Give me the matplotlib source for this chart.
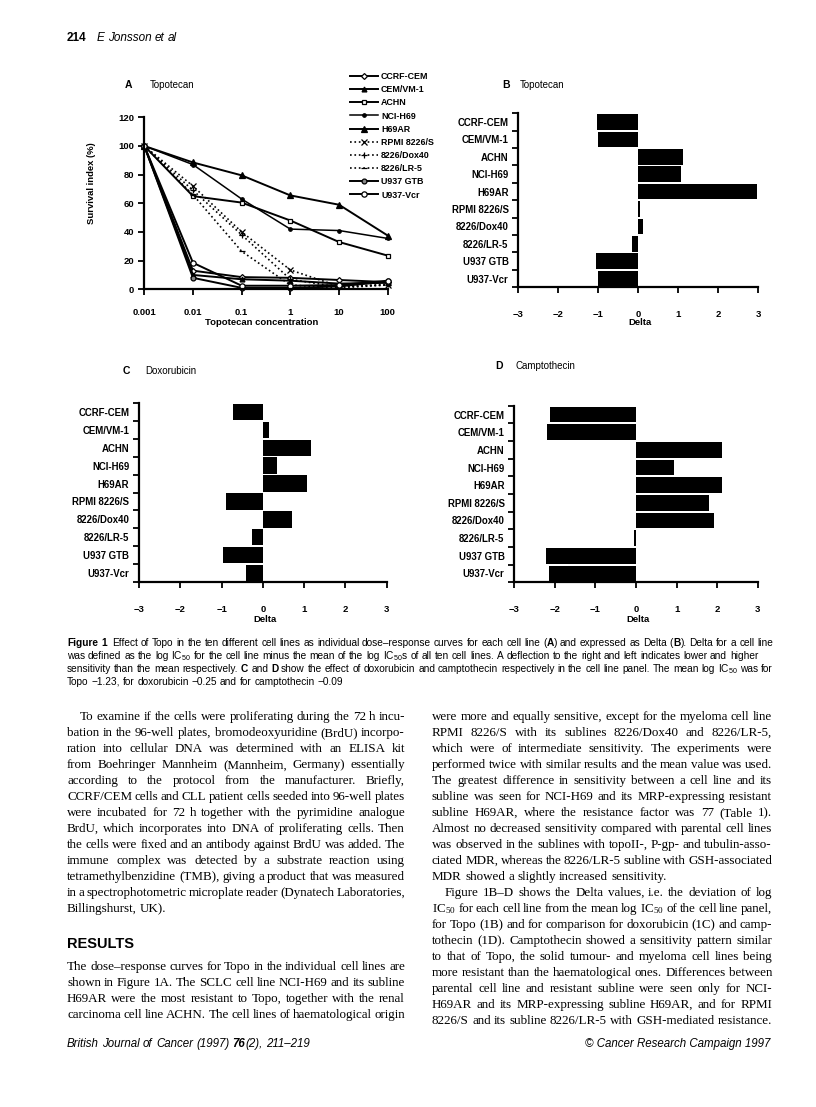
import matplotlib
matplotlib.use('Agg')
import matplotlib.pyplot as plt

W, H = 816, 1107
fig = plt.figure(figsize=(W / 100, H / 100), dpi=100)
renderer = fig.canvas.get_renderer()

# ---------------- data ----------------
conc = [0.001, 0.01, 0.1, 1, 10, 100]
conc_labels = ['0.001', '0.01', '0.1', '1', '10', '100']
cell_lines = ['CCRF-CEM', 'CEM/VM-1', 'ACHN', 'NCI-H69', 'H69AR',
              'RPMI 8226/S', '8226/Dox40', '8226/LR-5', 'U937 GTB', 'U937-Vcr']

surv_ccrf = [100, 13, 8.5, 8, 6.5, 5]
surv_cemvm = [100, 10, 7, 6, 4, 4.5]
surv_achn = [100, 65, 60.5, 48, 33, 23.5]
surv_h69 = [100, 87, 63, 42, 41, 35.5]
surv_h69ar = [100, 88.5, 79.5, 65.5, 59, 37.5]
surv_rpmi = [100, 72, 40, 13.5, 2, 3]
surv_dox40 = [100, 69, 38, 7, 1.5, 3.5]
surv_lr5 = [100, 66, 26.5, 3, 1, 3]
surv_u937 = [100, 8, 1, 1, 2, 5.5]
surv_vcr = [100, 18.5, 2.5, 2.5, 3, 6]

delta_topo = [-1.04, -1.02, 1.12, 1.07, 2.96, 0.04, 0.11, -0.16, -1.07, -1.00]
delta_doxo = [-0.73, 0.14, 1.17, 0.34, 1.08, -0.89, 0.71, -0.26, -0.97, -0.40]
delta_campto = [-2.11, -2.20, 2.12, 0.94, 2.12, 1.79, 1.93, -0.05, -2.22, -2.14]

delta_ticks = [-3, -2, -1, 0, 1, 2, 3]
delta_ticklabels = ['\u22123', '\u22122', '\u22121', '0', '1', '2', '3']

SANS = 'Liberation Sans'
SERIF = 'Liberation Serif'


def fx(x):
    return x / W


def fy(y):
    return 1 - y / H


def ax_px(l, t, r, b):
    return fig.add_axes([l / W, 1 - b / H, (r - l) / W, (b - t) / H])


def style_axes(ax):
    for s in ['top', 'right']:
        ax.spines[s].set_visible(False)
    for s in ['left', 'bottom']:
        ax.spines[s].set_linewidth(1.6)
    ax.tick_params(which='major', direction='out', length=4.5, width=1.3,
                   labelsize=6.8, pad=3)
    ax.set_facecolor('none')


# ---------------- panel A ----------------
axA = ax_px(144.3, 117.3, 387.7, 289.3)
series = [
    (surv_ccrf, dict(ls='-', marker='D', ms=3, mfc='white')),
    (surv_cemvm, dict(ls='-', marker='^', ms=3.5, mfc='black')),
    (surv_achn, dict(ls='-', marker='s', ms=3.5, mfc='white')),
    (surv_h69, dict(ls='-', marker='o', ms=2.5, mfc='black', lw=1.1)),
    (surv_h69ar, dict(ls='-', marker='^', ms=4, mfc='black')),
    (surv_rpmi, dict(ls=':', marker='x', ms=4, mfc='black', lw=1.2)),
    (surv_dox40, dict(ls=':', marker='+', ms=4.5, mfc='black', lw=1.2)),
    (surv_lr5, dict(ls=':', marker='_', ms=4.5, mfc='black', lw=1.2)),
    (surv_u937, dict(ls='-', marker='o', ms=3.5, mfc='#888888')),
    (surv_vcr, dict(ls='-', marker='o', ms=3.8, mfc='white')),
]
handles = []
for (vals, kw), name in zip(series, cell_lines):
    kw = dict(kw)
    kw.setdefault('lw', 1.4)
    ln, = axA.plot(conc, vals, color='black', mec='black', mew=0.9,
                   label=name, clip_on=False, **kw)
    handles.append(ln)
axA.set_xscale('log')
axA.set_xlim(0.001, 100)
axA.set_ylim(0, 120)
axA.set_xticks(conc)
axA.set_xticklabels(conc_labels)
axA.minorticks_off()
axA.set_yticks([0, 20, 40, 60, 80, 100, 120])
style_axes(axA)
for lab in axA.get_xticklabels() + axA.get_yticklabels():
    lab.set_fontfamily(SANS)
    lab.set_fontweight('bold')
axA.tick_params(axis='x', pad=9)
fig.text(fx(92), fy(183), 'Survival index (%)', rotation=90, ha='center', va='center',
         fontsize=6.8, family=SANS, fontweight='bold')
fig.text(fx(262), fy(322.7), 'Topotecan concentration', ha='center', va='center',
         fontsize=6.8, family=SANS, fontweight='bold')
fig.text(fx(125), fy(85), 'A', ha='left', va='center', fontsize=7.5, family=SANS,
         fontweight='bold')
fig.text(fx(150), fy(85), 'Topotecan', ha='left', va='center', fontsize=7, family=SANS)

fig.legend(handles, cell_lines, loc='upper left', bbox_to_anchor=(fx(350), fy(72)),
           frameon=False, prop=dict(family=SANS, weight='bold', size=6.4),
           handlelength=3.2, handletextpad=0.3, labelspacing=0.47, borderaxespad=0,
           borderpad=0)


# ---------------- bar panels ----------------
def bar_panel(l, t, r, b, vals, letter, title, letter_xy, title_x, delta_y):
    ax = ax_px(l, t, r, b)
    n = len(cell_lines)
    pos = [n - 0.5 - i for i in range(n)]
    ax.barh(pos, vals, height=0.9, color='black', edgecolor='none')
    ax.set_xlim(-3, 3)
    ax.set_ylim(0, n)
    ax.set_xticks(delta_ticks)
    ax.set_xticklabels(delta_ticklabels)
    ax.set_yticks(range(n + 1))
    ax.set_yticklabels([])
    ax.set_yticks(pos, minor=True)
    ax.set_yticklabels(cell_lines, minor=True)
    style_axes(ax)
    ax.tick_params(axis='y', which='minor', length=0, pad=7, labelsize=6.9)
    ax.tick_params(axis='x', pad=12)
    for lab in ax.get_xticklabels() + ax.get_yticklabels(minor=True):
        lab.set_fontfamily(SANS)
        lab.set_fontweight('bold')
    fig.text(fx((l + r) / 2 + 2), fy(delta_y), 'Delta', ha='center', va='center',
             fontsize=6.8, family=SANS, fontweight='bold')
    fig.text(fx(letter_xy[0]), fy(letter_xy[1]), letter, ha='left', va='center',
             fontsize=7.5, family=SANS, fontweight='bold')
    fig.text(fx(title_x), fy(letter_xy[1]), title, ha='left', va='center',
             fontsize=7, family=SANS)
    return ax


bar_panel(518.3, 113.3, 758.3, 287.3, delta_topo, 'B', 'Topotecan', (502, 85), 520, 322.7)
bar_panel(139, 402.7, 386.7, 582.3, delta_doxo, 'C', 'Doxorubicin', (123, 371), 145, 620)
bar_panel(514.3, 405.7, 757.7, 582.3, delta_campto, 'D', 'Camptothecin', (495, 366), 516, 620)


# ---------------- text helpers ----------------
_space_cache = {}


def space_width(size, family, weight='normal', style='normal'):
    key = (size, family, weight, style)
    if key not in _space_cache:
        t1 = fig.text(0, 0, 'a a', fontsize=size, family=family, fontweight=weight, fontstyle=style)
        t2 = fig.text(0, 0, 'aa', fontsize=size, family=family, fontweight=weight, fontstyle=style)
        w = t1.get_window_extent(renderer).width - t2.get_window_extent(renderer).width
        t1.remove()
        t2.remove()
        _space_cache[key] = w
    return _space_cache[key]


def justified_line(x0, x1, y, line, size, family, justify=True):
    words = line.split(' ')
    ts = [fig.text(0, fy(y), w, fontsize=size, family=family, ha='left', va='baseline')
          for w in words]
    widths = [t.get_window_extent(renderer).width for t in ts]
    if justify and len(words) > 1:
        gap = (x1 - x0 - sum(widths)) / (len(words) - 1)
    else:
        gap = space_width(size, family)
    x = x0
    for t, w in zip(ts, widths):
        t.set_x(fx(x))
        x += w + gap


def rich_line(x, y, segs, size, family, style='normal'):
    for txt, wt in segs:
        parts = txt.split(' ')
        for k, p in enumerate(parts):
            if k > 0:
                x += space_width(size, family, wt, style)
            if p:
                t = fig.text(fx(x), fy(y), p, fontsize=size, family=family, fontweight=wt,
                             fontstyle=style, ha='left', va='baseline')
                x += t.get_window_extent(renderer).width
    return x


# ---------------- header ----------------
rich_line(67, 41, [('214', 'bold')], 8.5, SANS)
rich_line(97, 41, [('E Jonsson et al', 'normal')], 8.5, SANS, style='italic')

# ---------------- caption ----------------
IC = 'IC$\\mathregular{_{50}}$'
cap = 7.3
cap_lines = [
    [('Figure 1', 'bold'), ('  Effect of Topo in the ten different cell lines as individual dose\u2013response curves for each cell line (', 'normal'),
     ('A', 'bold'), (') and expressed as Delta (', 'normal'), ('B', 'bold'), ('). Delta for a cell line', 'normal')],
    [('was defined as the log ' + IC + ' for the cell line minus the mean of the log ' + IC + 's of all ten cell lines. A deflection to the right and left indicates lower and higher', 'normal')],
    [('sensitivity than the mean respectively. ', 'normal'), ('C', 'bold'), (' and ', 'normal'), ('D', 'bold'),
     (' show the effect of doxorubicin and camptothecin respectively in the cell line panel. The mean log ' + IC + ' was for', 'normal')],
    [('Topo \u22121.23, for doxorubicin \u22120.25 and for camptothecin \u22120.09', 'normal')],
]
for i, segs in enumerate(cap_lines):
    rich_line(67, 646 + 13 * i, segs, cap, SANS)

# ---------------- body text ----------------
BS = 9.4
LEFT = (67, 405)
RIGHT = (432, 772)
left_par1 = [
    'To examine if the cells were proliferating during the 72 h incu-',
    'bation in the 96-well plates, bromodeoxyuridine (BrdU) incorpo-',
    'ration into cellular DNA was determined with an ELISA kit',
    'from Boehringer Mannheim (Mannheim, Germany) essentially',
    'according to the protocol from the manufacturer. Briefly,',
    'CCRF/CEM cells and CLL patient cells seeded into 96-well plates',
    'were incubated for 72 h together with the pyrimidine analogue',
    'BrdU, which incorporates into DNA of proliferating cells. Then',
    'the cells were fixed and an antibody against BrdU was added. The',
    'immune complex was detected by a substrate reaction using',
    'tetramethylbenzidine (TMB), giving a product that was measured',
    'in a spectrophotometric microplate reader (Dynatech Laboratories,',
    'Billingshurst, UK).',
]
left_par2 = [
    'The dose\u2013response curves for Topo in the individual cell lines are',
    'shown in Figure 1A. The SCLC cell line NCI-H69 and its subline',
    'H69AR were the most resistant to Topo, together with the renal',
    'carcinoma cell line ACHN. The cell lines of haematological origin',
]
right_par1 = [
    'were more and equally sensitive, except for the myeloma cell line',
    'RPMI 8226/S with its sublines 8226/Dox40 and 8226/LR-5,',
    'which were of intermediate sensitivity. The experiments were',
    'performed twice with similar results and the mean value was used.',
    'The greatest difference in sensitivity between a cell line and its',
    'subline was seen for NCI-H69 and its MRP-expressing resistant',
    'subline H69AR, where the resistance factor was 77 (Table 1).',
    'Almost no decreased sensitivity compared with parental cell lines',
    'was observed in the sublines with topoII-, P-gp- and tubulin-asso-',
    'ciated MDR, whereas the 8226/LR-5 subline with GSH-associated',
    'MDR showed a slightly increased sensitivity.',
]
right_par2 = [
    'Figure 1B\u2013D shows the Delta values, i.e. the deviation of log',
    IC + ' for each cell line from the mean log ' + IC + ' of the cell line panel,',
    'for Topo (1B) and for comparison for doxorubicin (1C) and camp-',
    'tothecin (1D). Camptothecin showed a sensitivity pattern similar',
    'to that of Topo, the solid tumour- and myeloma cell lines being',
    'more resistant than the haematological ones. Differences between',
    'parental cell line and resistant subline were seen only for NCI-',
    'H69AR and its MRP-expressing subline H69AR, and for RPMI',
    '8226/S and its subline 8226/LR-5 with GSH-mediated resistance.',
]

LH = 16
y0 = 720
IND = 13
for i, ln in enumerate(left_par1):
    x0 = LEFT[0] + (IND if i == 0 else 0)
    justified_line(x0, LEFT[1], y0 + LH * i, ln, BS, SERIF, justify=(i < len(left_par1) - 1))

fig.text(fx(67), fy(948), 'RESULTS', ha='left', va='baseline', fontsize=10.5,
         family=SANS, fontweight='bold')
for i, ln in enumerate(left_par2):
    justified_line(LEFT[0], LEFT[1], 970 + LH * i, ln, BS, SERIF, justify=True)

for i, ln in enumerate(right_par1):
    justified_line(RIGHT[0], RIGHT[1], y0 + LH * i, ln, BS, SERIF,
                   justify=(i < len(right_par1) - 1))
for i, ln in enumerate(right_par2):
    x0 = RIGHT[0] + (IND if i == 0 else 0)
    justified_line(x0, RIGHT[1], y0 + LH * (len(right_par1) + i), ln, BS, SERIF, justify=True)

# ---------------- footer ----------------
rich_line(67, 1047, [('British Journal of Cancer (1997) ', 'normal'), ('76', 'bold'),
                     ('(2), 211\u2013219', 'normal')], 8.3, SANS, style='italic')
fig.text(fx(770), fy(1047), '\u00a9 Cancer Research Campaign 1997', ha='right', va='baseline',
         fontsize=8.3, family=SANS, fontstyle='italic')

fig.savefig('out.png', dpi=100)
